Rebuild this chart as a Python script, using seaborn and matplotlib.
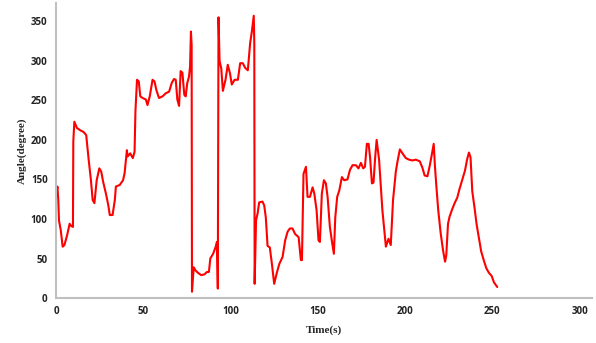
import seaborn as sns
import matplotlib.pyplot as plt
import pandas as pd

# angle trace (time in s, angle in degree)
time_s = [0, 0.8, 1.3, 1.7, 2.7, 3.8, 4.8, 6.3, 7.8, 8.7, 9.7, 9.9, 10.5, 12, 14, 15.8, 17.3,
          18.7, 20, 21, 22, 23.3, 24.8, 25.9, 27, 28.6, 29.9, 30.8, 32.4, 33.7, 34.3, 36.5,
          38.4, 39.3, 40.6, 41, 42.5, 44, 45, 45.5, 46.4, 47.4, 48.3, 49.6, 51.5, 52.4, 53.7,
          55.3, 56.4, 57.5, 59, 61, 62.9, 64.8, 66.3, 67.6, 68.6, 69.5, 70.5, 71.4, 72.4,
          73.5, 74.3, 75.2, 76.2, 76.8, 77.3, 77.7, 77.9, 78.9, 79.9, 81.3, 83.2, 85.1, 86.4,
          87.6, 88.4, 90, 91.5, 92.2, 92.7, 93.1, 93.7, 94.7, 95.6, 97.1, 98.4, 99.7, 100.7,
          102.3, 104.2, 105.5, 107, 108.4, 109.9, 111.2, 112.2, 113.3, 113.6, 113.8, 114.6,
          115.5, 116.4, 118.3, 119.3, 120.2, 121.2, 122.5, 123.7, 125, 126.4, 127.9, 129.8,
          131.3, 132.7, 134, 135.5, 137, 139, 140.3, 140.9, 141.8, 143.2, 144.1, 145.5, 147,
          148, 149.3, 150.4, 151.2, 152.3, 153.5, 154.6, 155.6, 156.9, 158, 159.2, 160, 161.1,
          162.3, 163.8, 165.1, 167, 168.4, 169.9, 171.8, 173.3, 174.7, 176, 177, 178.1, 179.1,
          179.9, 181, 181.9, 182.9, 183.7, 184.2, 185.1, 187, 189, 190.5, 191.8, 193.1, 194.7,
          195.6, 197, 198.5, 200.4, 202.3, 204.2, 206.1, 208.4, 209.9, 211.2, 212.8, 214.1,
          215.2, 216.4, 217.1, 217.9, 219, 220.4, 221.7, 222.9, 223.6, 224.6, 225.5, 227.1,
          228.6, 229.9, 231.2, 232.8, 234.3, 235.6, 236.6, 237.5, 238.5, 239.8, 241, 242.3,
          243.6, 245.2, 246.5, 248, 249.6, 250.9, 252.8]
angle_deg = [128, 141, 124, 98, 86, 65, 67, 79, 94, 91, 90, 198, 223, 215, 212, 210, 206,
             175, 149, 124, 120, 149, 164, 160, 147, 132, 118, 105, 105, 124, 141, 143,
             149, 158, 187, 179, 183, 177, 185, 236, 276, 274, 255, 253, 251, 244, 255,
             276, 274, 263, 253, 255, 259, 261, 272, 277, 276, 251, 243, 287, 285,
             257, 255, 272, 280, 293, 337, 320, 8, 39, 35, 32, 29, 30, 33,
             33, 50, 56, 65, 71, 12, 355, 300, 290, 262, 276, 295, 284, 270,
             276, 276, 297, 297, 291, 288, 322, 337, 357, 322, 18, 98,
             107, 121, 122, 117, 102, 66, 64, 43, 18, 31, 43, 52,
             73, 84, 88, 88, 81, 77, 48, 48, 157, 166, 128, 128, 140,
             132, 111, 73, 71, 132, 149, 145, 128, 90, 73, 56, 102, 128,
             136, 153, 149, 150, 162, 168, 168, 164, 171, 164, 166, 195, 195,
             179, 145, 146, 179, 200, 191, 175, 111, 65, 75, 67, 124, 160,
             172, 188, 183, 177, 175, 174, 175, 173, 165, 155, 154, 167,
             180, 195, 167, 142, 111, 82, 61, 46, 54, 94, 103, 113,
             121, 127, 138, 150, 161, 176, 184, 178, 135, 114, 93, 76,
             59, 47, 38, 32, 28, 20, 14]

x_ticks = [0, 50, 100, 150, 200, 250, 300]
y_ticks = [0, 50, 100, 150, 200, 250, 300, 350]

df = pd.DataFrame({'Time(s)': time_s, 'Angle(degree)': angle_deg})

sns.set_style('white')
fig = plt.figure(figsize=(5.96, 3.43), dpi=100)
ax = fig.add_axes([0.094, 0.131, 0.899, 0.86])

sns.lineplot(data=df, x='Time(s)', y='Angle(degree)', estimator=None, sort=False,
             color='#ff0000', linewidth=1.5, ax=ax)

ax.set_xlim(0, 307)
ax.set_ylim(0, 373)
ax.set_xticks(x_ticks)
ax.set_yticks(y_ticks)
for lab in ax.get_xticklabels() + ax.get_yticklabels():
    lab.set_fontfamily('Open Sans')
    lab.set_fontweight('bold')
    lab.set_fontsize(7)
    lab.set_color('#222222')
ax.tick_params(length=0, pad=6)

ax.set_xlabel('Time(s)', fontfamily='Liberation Serif', fontweight='bold', fontsize=8, labelpad=6)
ax.set_ylabel('Angle(degree)', fontfamily='Liberation Serif', fontweight='bold', fontsize=8, labelpad=3)

sns.despine(ax=ax)
for s in ['left', 'bottom']:
    ax.spines[s].set_color('#bfbfbf')
    ax.spines[s].set_linewidth(1.5)

fig.savefig('out.png', dpi=100)
